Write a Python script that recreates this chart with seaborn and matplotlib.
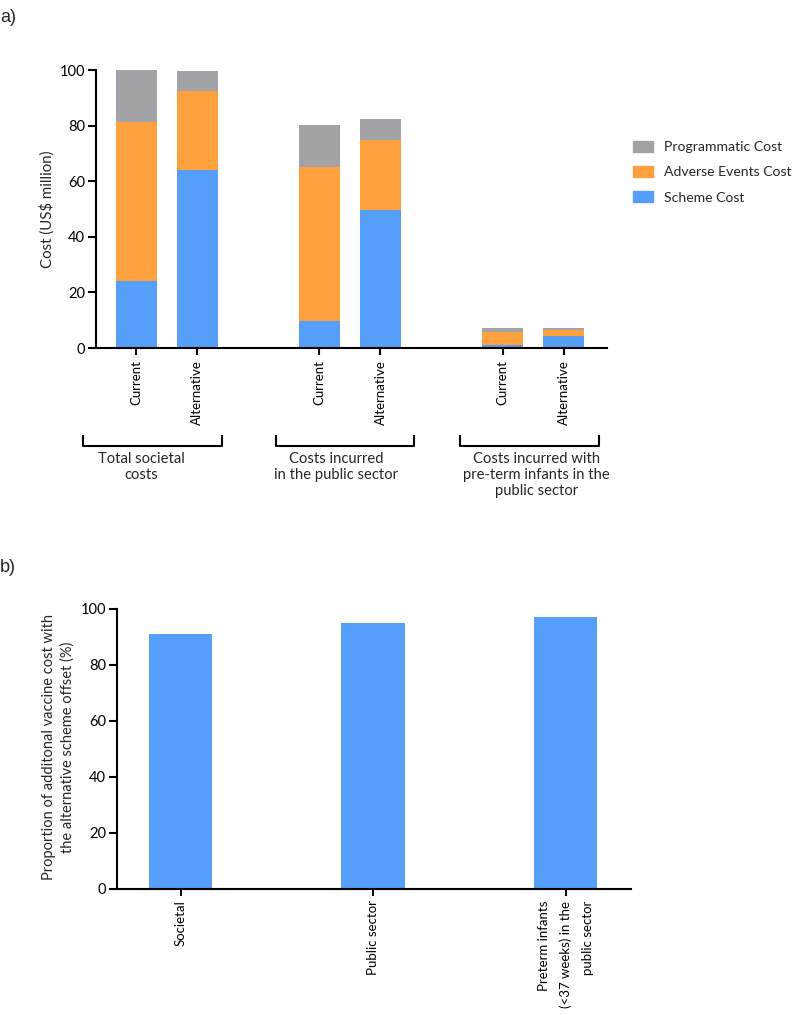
import numpy as np
import pandas as pd
import matplotlib
matplotlib.use("Agg")
import matplotlib.pyplot as plt
import matplotlib.transforms as mtransforms
from matplotlib.patches import Patch
import seaborn as sns

# ---- data (panel a) ----
scenarios = ["Current", "Alternative", "Current", "Alternative", "Current", "Alternative"]
positions = [0, 1, 3, 4, 6, 7]
group_labels = ["Total societal\ncosts",
                "Costs incurred\nin the public sector",
                "Costs incurred with\npre-term infants in the\npublic sector"]
scheme_cost = [24.1, 64.0, 9.8, 49.7, 1.1, 4.2]
adverse_cost = [57.2, 28.4, 55.4, 25.2, 4.7, 2.4]
programmatic_cost = [18.7, 7.4, 15.1, 7.4, 1.4, 0.6]

# ---- data (panel b) ----
sectors = ["Societal", "Public sector", "Preterm infants\n(<37 weeks) in the\npublic sector"]
offset_pct = [91.2, 95.1, 97.2]

BLUE = "#559FFA"
ORANGE = "#FFA03F"
GREY = "#A2A2A7"

sns.set_style("ticks")
plt.rcParams["font.family"] = ["Lato", "DejaVu Sans"]
plt.rcParams["axes.linewidth"] = 1.5
plt.rcParams["xtick.major.width"] = 1.5
plt.rcParams["ytick.major.width"] = 1.5
plt.rcParams["xtick.major.size"] = 5
plt.rcParams["ytick.major.size"] = 6
plt.rcParams["xtick.color"] = "black"
plt.rcParams["ytick.color"] = "black"
plt.rcParams["axes.edgecolor"] = "black"

FS = 9.5
LFS = 10.6
fig = plt.figure(figsize=(7.97, 10.15), dpi=100)

# ---------------- panel a ----------------
ax1 = fig.add_axes([96/797, 1-348/1015, (607-96)/797, (348-70)/1015])
df = pd.DataFrame({"pos": positions, "scheme": scheme_cost,
                   "adverse": adverse_cost, "prog": programmatic_cost})
df["lvl2"] = df["scheme"] + df["adverse"]
df["lvl3"] = df["lvl2"] + df["prog"]

for col, c in [("lvl3", GREY), ("lvl2", ORANGE), ("scheme", BLUE)]:
    sns.barplot(data=df, x="pos", y=col, native_scale=True, color=c,
                saturation=1, width=0.67, linewidth=0, ax=ax1, errorbar=None)

ax1.set_xlim(-0.66, 7.71)
ax1.set_ylim(0, 100)
ax1.set_yticks([0, 20, 40, 60, 80, 100])
ax1.set_xticks(positions)
ax1.set_xticklabels(scenarios, rotation=90, fontsize=FS, va="top", ha="center")
ax1.tick_params(axis="y", labelsize=FS + 1, pad=2)
ax1.set_xlabel("")
ax1.set_ylabel("Cost (US\\$ million)", fontsize=10.8)
ax1.yaxis.set_label_coords(-0.081, 0.5)
sns.despine(ax=ax1)

trans = mtransforms.blended_transform_factory(ax1.transData, ax1.transAxes)
brackets = [(-0.88, 1.40), (2.29, 4.55), (5.31, 7.58)]
text_x = [0.08, 3.27, 6.55]
for (x0, x1), lab, tx in zip(brackets, group_labels, text_x):
    ax1.plot([x0, x0, x1, x1], [-0.313, -0.3525, -0.3525, -0.313], color="black",
             lw=1.5, transform=trans, clip_on=False, solid_capstyle="butt")
    ax1.text(tx, -0.374, lab, transform=trans, ha="center", va="top",
             fontsize=LFS, linespacing=1.2, multialignment="center")

handles = [Patch(color=GREY, label="Programmatic Cost"),
           Patch(color=ORANGE, label="Adverse Events Cost"),
           Patch(color=BLUE, label="Scheme Cost")]
fig.legend(handles=handles, loc="upper left", bbox_to_anchor=(633/797, 1-141/1015),
           frameon=False, fontsize=10.1, borderpad=0, borderaxespad=0,
           handlelength=1.45, handleheight=0.8, handletextpad=0.75, labelspacing=0.92)

# ---------------- panel b ----------------
ax2 = fig.add_axes([117/797, 1-888.7/1015, (631-117)/797, (888.7-609)/1015])
df2 = pd.DataFrame({"sector": sectors, "offset": offset_pct})
sns.barplot(data=df2, x="sector", y="offset", color=BLUE, saturation=1,
            width=0.33, linewidth=0, ax=ax2, errorbar=None)
ax2.set_xlim(-0.33, 2.34)
ax2.set_ylim(0, 100)
ax2.set_yticks([0, 20, 40, 60, 80, 100])
ax2.set_xticks([0, 1, 2])
ax2.set_xticklabels(sectors, rotation=90, fontsize=FS, va="top", ha="center",
                    multialignment="right", linespacing=1.95)
ax2.tick_params(axis="y", labelsize=FS + 1, pad=2)
ax2.set_xlabel("")
ax2.set_ylabel("Proportion of additonal vaccine cost with\nthe alternative scheme offset (%)",
               fontsize=10.5, linespacing=1.4)
ax2.yaxis.set_label_coords(-0.082, 0.505)
sns.despine(ax=ax2)

fig.text(0.0, 1-18/1015, "a)", fontsize=13, va="center", ha="left",
         family=["Liberation Sans", "DejaVu Sans"])
fig.text(0.0, 1-567/1015, "b)", fontsize=13, va="center", ha="left",
         family=["Liberation Sans", "DejaVu Sans"])

fig.savefig("out.png", dpi=100)
